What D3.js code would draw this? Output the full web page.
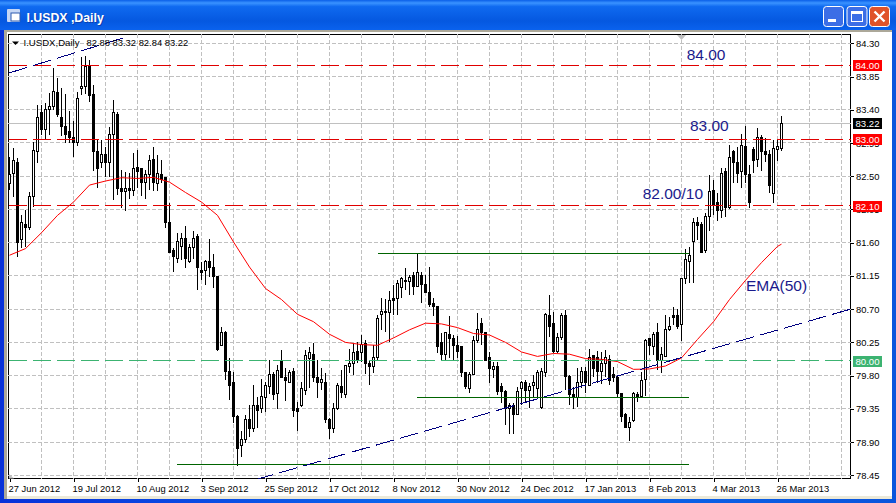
<!DOCTYPE html>
<html>
<head>
<meta charset="utf-8">
<style>
  html, body { margin: 0; padding: 0; background: #fff; overflow: hidden; }
  svg { display: block; }
  text { font-family: "Liberation Sans", Arial, sans-serif; }
  .axis text { font-size: 9.4px; fill: #000; }
  .axis path { display: none; }
  .axis line { stroke: #000; shape-rendering: crispEdges; }
  .grid { stroke: #c0c0c0; stroke-dasharray: 4,2; shape-rendering: crispEdges; }
  .note { font-size: 15.5px; fill: #1a1a8c; }
  .tag { font-size: 9.6px; }
</style>
<script src="https://cdnjs.cloudflare.com/ajax/libs/d3/7.8.5/d3.min.js"></script>
</head>
<body>
<script>
var title = "I.USDX ,Daily";
var header = "I.USDX,Daily";
var headerValues = "82.88 83.32 82.84 83.22";

var opens = [
  82.40,82.54,82.69,81.64,81.85,81.80,82.22,82.83,83.36,83.13,
  83.40,83.44,83.64,83.30,83.18,83.10,83.03,82.96,83.69,83.71,
  83.99,83.60,82.83,82.68,82.80,82.68,83.07,83.34,82.34,82.29,
  82.34,82.30,82.62,82.60,82.41,82.53,82.72,82.40,82.53,82.48,
  81.88,81.50,81.39,81.55,81.65,81.35,81.53,81.68,81.23,81.22,
  81.35,81.26,81.14,80.21,80.38,79.85,79.70,79.25,78.86,78.94,
  79.20,79.08,79.39,79.36,79.50,79.65,79.81,79.56,80.00,79.78,
  79.71,79.85,79.35,79.39,79.60,80.03,80.09,79.78,79.70,79.70,
  79.21,79.09,79.36,79.65,79.54,79.92,79.97,80.12,80.11,80.23,
  79.97,79.92,80.04,80.63,80.67,80.65,80.85,80.85,80.99,81.09,
  81.07,81.15,81.01,81.16,81.04,80.93,80.78,80.73,80.25,80.08,
  80.36,80.30,80.21,80.20,79.84,79.63,79.82,80.27,80.50,80.38,
  80.04,79.88,79.93,79.65,79.59,79.36,79.39,79.27,79.62,79.70,
  79.60,79.66,79.62,79.37,79.84,80.62,80.51,80.13,80.31,80.62,
  79.79,79.55,79.50,79.71,79.85,79.67,80.07,80.04,79.85,79.97,
  80.02,79.81,79.77,79.56,79.27,79.10,79.19,79.55,79.52,79.75,
  80.30,80.20,80.38,80.01,80.06,80.43,80.62,80.61,80.49,81.12,
  81.34,81.61,81.87,81.84,81.49,81.95,82.30,82.14,82.03,82.56,
  82.07,82.83,82.69,82.56,82.90,82.53,82.86,82.73,83.03,82.84,
  82.80,82.27,82.86,82.88];

var highs = [
  82.76,82.88,82.75,81.97,82.04,82.29,82.96,83.46,83.46,83.49,
  83.63,83.97,83.83,83.69,83.61,83.38,83.25,83.64,84.11,84.13,
  84.07,83.74,82.99,82.99,82.90,83.17,83.53,83.37,82.58,82.56,
  82.54,82.81,82.86,82.61,82.58,82.79,82.90,82.79,82.72,82.49,
  82.14,81.53,81.73,81.73,81.83,81.58,81.76,81.72,81.34,81.37,
  81.65,81.45,81.15,80.46,80.40,80.04,79.85,79.27,79.05,79.27,
  79.40,79.67,79.51,79.75,79.71,80.01,79.85,79.94,80.15,79.90,
  79.88,79.90,79.44,79.71,80.15,80.19,80.24,80.01,79.90,79.84,
  79.23,79.43,79.70,79.88,79.94,80.16,80.24,80.25,80.35,80.28,
  80.01,80.21,80.62,80.85,80.84,80.95,81.03,81.09,81.13,81.26,
  81.16,81.20,81.46,81.20,81.16,81.27,80.85,80.73,80.38,80.39,
  80.61,80.35,80.34,80.20,79.84,79.85,80.34,80.65,80.58,80.39,
  80.12,79.98,79.98,79.70,79.60,79.43,79.43,79.65,79.73,79.74,
  79.70,79.81,79.88,79.90,80.65,80.89,80.66,80.38,80.65,80.69,
  79.81,79.65,79.90,79.92,79.92,80.16,80.08,80.13,80.12,80.15,
  80.08,79.92,79.81,79.56,79.29,79.24,79.58,79.58,79.85,80.30,
  80.31,80.39,80.51,80.19,80.62,80.59,80.73,80.70,81.12,81.51,
  81.54,81.93,81.95,81.88,82.00,82.52,82.45,82.27,82.61,82.61,
  82.92,82.85,82.90,83.07,83.18,82.65,82.90,83.15,83.06,83.02,
  82.85,82.99,82.99,83.32];

var lows = [
  82.31,82.22,81.41,81.53,81.54,81.77,82.08,82.68,83.06,82.99,
  83.06,83.40,83.30,83.04,82.95,82.95,82.76,82.91,83.60,83.61,
  83.51,82.57,82.34,82.61,82.49,82.49,82.18,82.25,82.07,82.03,
  82.19,82.23,82.34,82.23,82.19,82.31,82.30,82.30,82.41,81.80,
  81.46,81.20,81.32,81.37,81.26,81.32,81.38,80.96,81.09,81.03,
  81.14,80.99,80.13,80.20,79.74,79.47,79.16,78.58,78.70,78.89,
  78.97,79.04,79.09,79.29,79.31,79.55,79.47,79.35,79.78,79.46,
  79.70,79.24,79.05,79.38,79.54,79.63,79.71,79.50,79.60,79.16,
  78.94,79.02,79.33,79.50,79.50,79.84,79.81,79.97,79.98,79.82,
  79.67,79.84,80.01,80.42,80.39,80.25,80.62,80.62,80.85,80.96,
  80.89,80.89,81.00,80.78,80.92,80.73,80.61,80.11,80.01,80.00,
  80.04,80.01,80.04,79.78,79.62,79.56,79.81,80.24,80.21,80.00,
  79.70,79.77,79.54,79.43,79.13,79.01,79.01,79.27,79.40,79.43,
  79.36,79.51,79.50,79.35,79.78,80.32,80.11,80.11,80.28,79.60,
  79.40,79.35,79.37,79.63,79.56,79.67,79.78,79.70,79.69,79.78,
  79.67,79.71,79.51,79.17,79.09,78.91,79.17,79.44,79.50,79.52,
  80.08,80.08,79.88,79.84,80.05,80.40,80.49,80.43,80.27,81.04,
  81.05,81.05,81.64,81.46,81.46,81.76,81.97,81.89,81.93,81.95,
  82.06,82.41,82.41,82.34,82.41,82.07,82.54,82.62,82.57,82.69,
  82.27,82.14,82.71,82.84];

var closes = [
  82.53,82.71,81.60,81.87,81.80,82.23,82.85,83.30,83.13,83.40,
  83.44,83.65,83.34,83.18,83.07,83.02,82.95,83.55,83.72,83.99,
  83.59,82.83,82.61,82.80,82.68,83.07,83.36,82.33,82.29,82.33,
  82.31,82.61,82.56,82.41,82.53,82.71,82.41,82.54,82.45,81.88,
  81.47,81.41,81.62,81.66,81.38,81.53,81.66,81.26,81.20,81.34,
  81.26,81.14,80.15,80.39,79.85,79.67,79.24,78.81,78.94,79.21,
  79.09,79.40,79.33,79.52,79.67,79.82,79.55,79.87,79.78,79.73,
  79.84,79.33,79.32,79.62,80.07,80.11,79.77,79.71,79.75,79.20,
  79.09,79.36,79.66,79.57,79.94,79.97,80.11,80.01,80.22,79.96,
  79.92,80.04,80.57,80.67,80.65,80.82,80.82,81.05,81.11,81.07,
  81.13,81.00,81.19,81.03,80.92,80.76,80.73,80.19,80.08,80.38,
  80.30,80.21,80.13,79.84,79.65,79.82,80.28,80.42,80.38,80.01,
  79.89,79.93,79.59,79.59,79.36,79.39,79.27,79.59,79.70,79.60,
  79.65,79.70,79.84,79.85,80.63,80.46,80.12,80.32,80.62,79.79,
  79.54,79.50,79.71,79.86,79.70,80.04,79.90,79.86,79.97,80.04,
  79.74,79.77,79.56,79.24,79.10,79.17,79.56,79.51,79.74,80.28,
  80.21,80.36,80.00,80.09,80.43,80.47,80.59,80.46,81.11,81.37,
  81.43,81.88,81.83,81.47,81.96,82.29,82.10,82.04,82.54,82.08,
  82.76,82.68,82.54,82.91,82.53,82.14,82.71,83.03,82.83,82.80,
  82.37,82.87,82.90,83.22];

// EMA(50), plus the last one
var emaBars = [0,4,8,12,16,20,24,28,32,36,40,44,48,52,56,60,64,68,72,76,80,84,88,92,96,100,
  104,108,112,116,120,124,128,132,136,140,144,148,152,156,160,164,168,172,176,180,184,188,192,193];
var emaValues = [81.43,81.52,81.735,81.97,82.15,82.38,82.435,82.48,82.47,82.485,82.42,82.28,82.15,81.97,
  81.61,81.27,80.98,80.83,80.63,80.53,80.36,80.25,80.22,80.21,80.31,80.42,80.51,80.50,80.45,80.37,80.35,
  80.25,80.12,80.06,80.10,80.09,80.03,80.02,79.99,79.885,79.89,79.93,80.04,80.29,80.53,80.83,81.09,81.33,81.55,81.58];

var dateBars = [0,16,32,48,64,80,96,112,128,144,160,176,192];
var dateLabels = ["27 Jun 2012","19 Jul 2012","10 Aug 2012","3 Sep 2012","25 Sep 2012","17 Oct 2012",
  "8 Nov 2012","30 Nov 2012","24 Dec 2012","17 Jan 2013","8 Feb 2013","4 Mar 2013","26 Mar 2013"];
var gridBars = d3.range(8, 209, 8);
var priceTicks = [84.30,83.85,83.40,82.95,82.50,82.05,81.60,81.15,80.70,80.25,79.80,79.35,78.90,78.45];

var lastPrice = 83.22;
var redLevels = [84.00,83.00,82.10];
var greenLevels = [80.00];

// support lines: bar and price of both ends
var flatLines = [[92,81.46,169.9,81.46],[101.9,79.51,169.9,79.50],[41.9,78.60,169.9,78.60]];
var trendLines = [[0,83.90,28.3,84.37],[61.45,78.39,210.25,80.70]];
var notes = [["84.00",169.3,84.07],["83.00",170.1,83.11],["82.00/10",158.3,82.196],["EMA(50)",184.1,80.95]];

var width = 896, height = 503;
var left = 8, top_ = 34, right = 851, bottom = 479;

var svg = d3.select("body").append("svg").attr("width", width).attr("height", height);
var defs = svg.append("defs");

var bar = defs.append("linearGradient").attr("id", "bar").attr("x1", 0).attr("y1", 0).attr("x2", 0).attr("y2", 1);
[[0,"#0a5fe8"],[0.1,"#3a93ff"],[0.22,"#0f6af0"],[0.7,"#0558e0"],[1,"#0a62ee"]].forEach(function(s) {
  bar.append("stop").attr("offset", s[0]).attr("stop-color", s[1]);
});
var side = defs.append("linearGradient").attr("id", "side").attr("x1", 0).attr("y1", 0).attr("x2", 1).attr("y2", 0);
[[0,"#0831d9"],[0.5,"#0c6cf0"],[1,"#0a55dc"]].forEach(function(s) {
  side.append("stop").attr("offset", s[0]).attr("stop-color", s[1]);
});
defs.append("clipPath").attr("id", "plot").append("rect")
  .attr("x", left).attr("y", top_).attr("width", right - left).attr("height", bottom - top_);

drawWindow();

var x = d3.scaleLinear().domain([0, 193]).range([9.5, 781.5]);
var y = d3.scaleLinear().domain([78.45, 84.30]).range([475.3, 43.3]);

// grid
var grid = svg.append("g");
grid.selectAll(".v").data(gridBars).enter().append("line").attr("class", "grid v")
  .attr("x1", d => x(d)).attr("x2", d => x(d)).attr("y1", top_).attr("y2", bottom);
grid.selectAll(".h").data(priceTicks).enter().append("line").attr("class", "grid h")
  .attr("x1", left).attr("x2", right).attr("y1", d => y(d)).attr("y2", d => y(d));

// axes
var yAxis = svg.append("g").attr("class", "axis").attr("transform", "translate(" + right + ",0)")
  .call(d3.axisRight(y).tickValues(priceTicks).tickSize(3).tickPadding(2).tickFormat(d3.format(".2f")));
var xAxis = svg.append("g").attr("class", "axis").attr("transform", "translate(0," + bottom + ")")
  .call(d3.axisBottom(x).tickValues(dateBars).tickSize(3).tickPadding(2).tickFormat((d, i) => dateLabels[i]));
xAxis.selectAll("text").attr("text-anchor", "start").attr("dx", -1.5).attr("dy", 7.5);

// bid line sits under the bars
svg.append("line").attr("x1", left).attr("x2", right).attr("y1", y(lastPrice)).attr("y2", y(lastPrice))
  .attr("stroke", "#c0c0c0").attr("shape-rendering", "crispEdges");

// candles
var candles = svg.append("g").attr("shape-rendering", "crispEdges");
candles.selectAll("line").data(opens).enter().append("line")
  .attr("x1", (d, i) => x(i)).attr("x2", (d, i) => x(i))
  .attr("y1", (d, i) => y(highs[i])).attr("y2", (d, i) => y(lows[i]))
  .attr("stroke", "#000");
candles.selectAll("rect").data(opens).enter().append("rect")
  .attr("x", (d, i) => x(i) - 1)
  .attr("width", 2)
  .attr("y", (d, i) => y(Math.max(d, closes[i])))
  .attr("height", (d, i) => Math.max(1, Math.abs(y(d) - y(closes[i]))))
  .attr("fill", (d, i) => closes[i] >= d ? "#fff" : "#000")
  .attr("stroke", "#000");

// EMA(50)
var emaLine = d3.line().x((d, i) => x(emaBars[i])).y(d => y(d));
svg.append("path").datum(emaValues).attr("d", emaLine)
  .attr("fill", "none").attr("stroke", "#f00").attr("stroke-width", 1);

// chart objects
var objects = svg.append("g").attr("clip-path", "url(#plot)");
objects.selectAll(".red").data(redLevels).enter().append("line")
  .attr("x1", 9).attr("x2", right).attr("y1", d => y(d)).attr("y2", d => y(d))
  .attr("stroke", "#e00000").attr("stroke-dasharray", "18,6").attr("shape-rendering", "crispEdges");
objects.selectAll(".green").data(greenLevels).enter().append("line")
  .attr("x1", 9).attr("x2", right).attr("y1", d => y(d)).attr("y2", d => y(d))
  .attr("stroke", "#3cb371").attr("stroke-dasharray", "18,6").attr("shape-rendering", "crispEdges");
objects.selectAll(".flat").data(flatLines).enter().append("line")
  .attr("x1", d => x(d[0])).attr("y1", d => y(d[1])).attr("x2", d => x(d[2])).attr("y2", d => y(d[3]))
  .attr("stroke", "#006400").attr("shape-rendering", "crispEdges");
objects.selectAll(".trend").data(trendLines).enter().append("line")
  .attr("x1", d => x(d[0])).attr("y1", d => y(d[1])).attr("x2", d => x(d[2])).attr("y2", d => y(d[3]))
  .attr("stroke", "#000080").attr("stroke-dasharray", "18.7,6.3").attr("shape-rendering", "crispEdges");

svg.selectAll(".note").data(notes).enter().append("text").attr("class", "note")
  .attr("x", d => x(d[1])).attr("y", d => y(d[2])).text(d => d[0]);

// price tags on the right axis
function tag(value, color) {
  var yy = Math.round(y(value));
  svg.append("rect").attr("x", 853).attr("y", yy - 5).attr("width", 29).attr("height", 11).attr("fill", color);
  svg.append("text").attr("class", "tag").attr("x", 855.5).attr("y", yy + 3.5).attr("fill", "#fff").text(value.toFixed(2));
}
redLevels.forEach(d => tag(d, "#f00"));
greenLevels.forEach(d => tag(d, "#3cb371"));
tag(lastPrice, "#000");

// header, markers
svg.append("path").attr("d", "M12 41.5h7l-3.5 3.5z").attr("fill", "#000");
svg.append("text").attr("x", 23.5).attr("y", 46).attr("font-size", "9.6px").text(header);
svg.append("text").attr("x", 86.5).attr("y", 46).attr("font-size", "9.4px").text(headerValues);
svg.append("path").attr("d", "M677 35h9l-4.5 5z").attr("fill", "#c0c0c0");
svg.append("path").attr("d", "M9 474l5 4.5h-5z").attr("fill", "#c0c0c0");

function drawWindow() {
  svg.append("rect").attr("width", width).attr("height", height).attr("fill", "url(#side)");
  svg.append("rect").attr("width", width).attr("height", 30).attr("fill", "url(#bar)");
  svg.append("rect").attr("x", 4).attr("y", 30).attr("width", 888).attr("height", 469).attr("fill", "#ece9d8");
  svg.append("rect").attr("x", 4).attr("y", 30).attr("width", 888).attr("height", 2).attr("fill", "#aca899");
  svg.append("rect").attr("x", 4).attr("y", 30).attr("width", 3).attr("height", 469).attr("fill", "#aca899");
  svg.append("rect").attr("x", 7).attr("y", 32).attr("width", 885).attr("height", 464).attr("fill", "#fff");
  svg.append("rect").attr("x", left + 0.5).attr("y", top_ + 0.5).attr("width", right - left - 1).attr("height", bottom - top_ - 1)
    .attr("fill", "#fff").attr("stroke", "#000").attr("shape-rendering", "crispEdges");

  // title icon
  svg.append("rect").attr("x", 7).attr("y", 9).attr("width", 13).attr("height", 13).attr("rx", 1).attr("fill", "#c6d7f5");
  svg.append("rect").attr("x", 11).attr("y", 13).attr("width", 9).attr("height", 8).attr("fill", "#fff").attr("stroke", "#2c5bb0");
  svg.append("text").attr("x", 27.5).attr("y", 23).attr("font-size", "12.3px").attr("font-weight", "bold").attr("fill", "#0a3fb0").text(title);
  svg.append("text").attr("x", 26.5).attr("y", 22).attr("font-size", "12.3px").attr("font-weight", "bold").attr("fill", "#fff").text(title);

  // window buttons
  [[823.5,"#3c6ee6"],[847,"#3c6ee6"],[869.5,"#e0532a"]].forEach(function(b) {
    svg.append("rect").attr("x", b[0]).attr("y", 6.5).attr("width", 20).attr("height", 20).attr("rx", 3)
      .attr("fill", b[1]).attr("stroke", "#fff");
  });
  svg.append("rect").attr("x", 828).attr("y", 19).attr("width", 8).attr("height", 3).attr("fill", "#fff");
  svg.append("rect").attr("x", 851.5).attr("y", 11.5).attr("width", 11).attr("height", 10)
    .attr("fill", "none").attr("stroke", "#fff");
  svg.append("rect").attr("x", 851).attr("y", 11).attr("width", 12).attr("height", 3).attr("fill", "#fff");
  svg.append("path").attr("d", "M874.5 11.5l10 10M884.5 11.5l-10 10").attr("stroke", "#fff").attr("stroke-width", 2.4);
}
</script>
</body>
</html>
